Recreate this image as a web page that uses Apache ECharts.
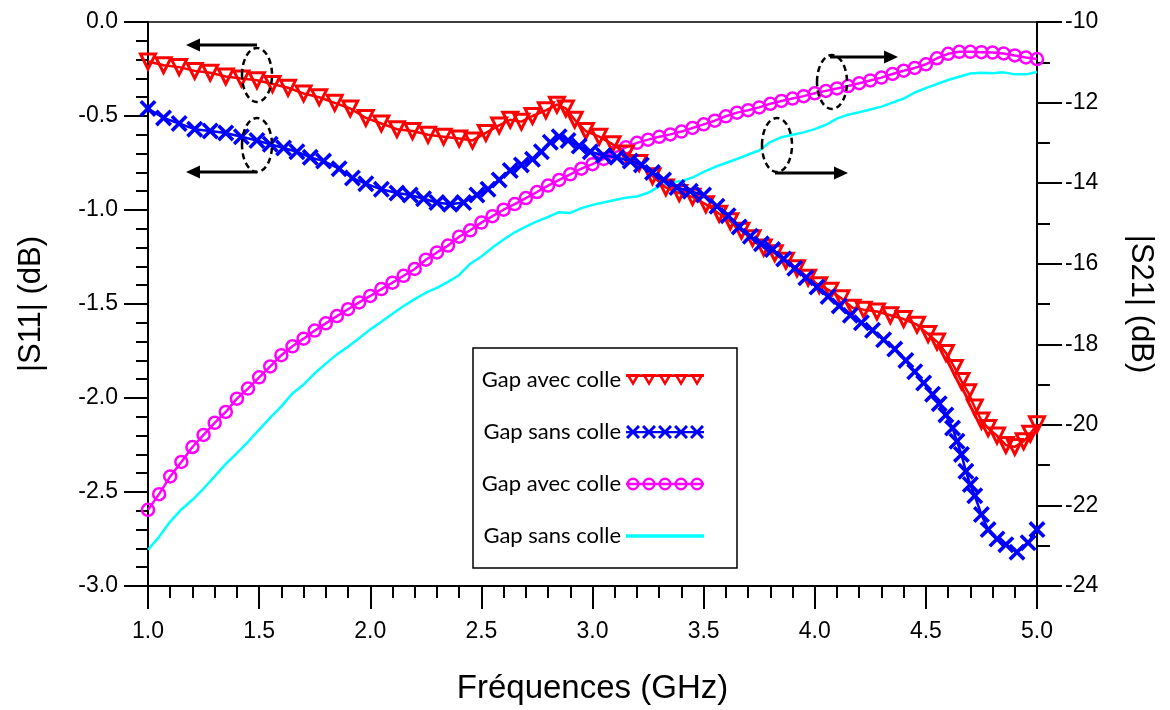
<!DOCTYPE html>
<html><head><meta charset="utf-8">
<script src="https://cdn.jsdelivr.net/npm/echarts@6/dist/echarts.min.js"></script>
<style>html,body{margin:0;padding:0;background:#fff}#c{width:1170px;height:710px}</style>
</head><body><div id="c"></div>
<script>
// ---- data ----
const seriesNames = ['Gap avec colle', 'Gap sans colle', 'Gap avec colle', 'Gap sans colle'];

const freqS11Avec = [1.00,1.07,1.14,1.21,1.28,1.35,1.42,1.49,1.56,1.63,1.70,1.77,1.84,1.91,1.98,2.05,2.12,2.19,2.26,2.33,2.40,2.46,2.52,2.58,2.63,2.68,2.73,2.79,2.84,2.88,2.92,2.97,3.03,3.09,3.15,3.21,3.27,3.33,3.39,3.45,3.51,3.57,3.62,3.67,3.72,3.77,3.82,3.87,3.92,3.97,4.02,4.07,4.12,4.17,4.22,4.28,4.34,4.40,4.46,4.51,4.55,4.59,4.63,4.66,4.69,4.72,4.75,4.78,4.82,4.86,4.90,4.94,4.97,5.00];
const s11Avec = [-0.21,-0.23,-0.24,-0.26,-0.27,-0.29,-0.30,-0.31,-0.33,-0.35,-0.38,-0.40,-0.43,-0.46,-0.51,-0.54,-0.57,-0.58,-0.60,-0.61,-0.62,-0.63,-0.59,-0.55,-0.52,-0.53,-0.50,-0.47,-0.44,-0.46,-0.52,-0.58,-0.61,-0.65,-0.70,-0.75,-0.82,-0.88,-0.91,-0.93,-0.97,-1.02,-1.06,-1.11,-1.15,-1.20,-1.23,-1.27,-1.31,-1.36,-1.40,-1.43,-1.47,-1.52,-1.53,-1.54,-1.56,-1.58,-1.61,-1.66,-1.70,-1.76,-1.84,-1.91,-1.97,-2.05,-2.12,-2.16,-2.20,-2.25,-2.26,-2.23,-2.19,-2.14];

const freqS11Sans = [1.00,1.07,1.14,1.21,1.28,1.35,1.42,1.49,1.55,1.61,1.67,1.73,1.79,1.86,1.92,1.98,2.05,2.12,2.18,2.24,2.30,2.36,2.42,2.48,2.53,2.58,2.63,2.68,2.73,2.77,2.81,2.85,2.89,2.94,2.99,3.05,3.11,3.17,3.22,3.27,3.32,3.38,3.44,3.50,3.56,3.61,3.66,3.71,3.76,3.81,3.86,3.91,3.96,4.01,4.06,4.11,4.16,4.21,4.26,4.31,4.36,4.41,4.45,4.49,4.53,4.56,4.59,4.62,4.64,4.66,4.68,4.70,4.72,4.75,4.78,4.82,4.86,4.91,4.96,5.00];
const s11Sans = [-0.46,-0.51,-0.54,-0.57,-0.58,-0.59,-0.61,-0.63,-0.65,-0.67,-0.69,-0.72,-0.74,-0.78,-0.83,-0.86,-0.89,-0.91,-0.92,-0.94,-0.96,-0.97,-0.96,-0.92,-0.89,-0.84,-0.79,-0.76,-0.73,-0.69,-0.64,-0.61,-0.63,-0.66,-0.69,-0.71,-0.72,-0.74,-0.76,-0.80,-0.84,-0.88,-0.90,-0.92,-0.98,-1.03,-1.09,-1.14,-1.18,-1.21,-1.26,-1.31,-1.36,-1.41,-1.46,-1.51,-1.56,-1.60,-1.64,-1.69,-1.74,-1.80,-1.86,-1.92,-1.98,-2.03,-2.09,-2.16,-2.23,-2.30,-2.39,-2.46,-2.52,-2.62,-2.70,-2.75,-2.78,-2.82,-2.77,-2.70];

const freqS21 = [1.00,1.05,1.10,1.15,1.20,1.25,1.30,1.35,1.40,1.45,1.50,1.55,1.60,1.65,1.70,1.75,1.80,1.85,1.90,1.95,2.00,2.05,2.10,2.15,2.20,2.25,2.30,2.35,2.40,2.45,2.50,2.55,2.60,2.65,2.70,2.75,2.80,2.85,2.90,2.95,3.00,3.05,3.10,3.15,3.20,3.25,3.30,3.35,3.40,3.45,3.50,3.55,3.60,3.65,3.70,3.75,3.80,3.85,3.90,3.95,4.00,4.05,4.10,4.15,4.20,4.25,4.30,4.35,4.40,4.45,4.50,4.55,4.60,4.65,4.70,4.75,4.80,4.85,4.90,4.95,5.00];
const s21Avec = [-22.11,-21.72,-21.28,-20.92,-20.55,-20.25,-19.95,-19.68,-19.35,-19.10,-18.82,-18.55,-18.27,-18.05,-17.86,-17.66,-17.48,-17.30,-17.13,-16.96,-16.80,-16.63,-16.47,-16.30,-16.13,-15.90,-15.72,-15.55,-15.33,-15.17,-14.98,-14.82,-14.66,-14.52,-14.37,-14.22,-14.06,-13.92,-13.78,-13.64,-13.53,-13.40,-13.24,-13.11,-13.00,-12.92,-12.85,-12.79,-12.72,-12.63,-12.54,-12.45,-12.34,-12.25,-12.19,-12.12,-12.03,-11.96,-11.90,-11.84,-11.77,-11.71,-11.65,-11.59,-11.52,-11.45,-11.38,-11.29,-11.21,-11.14,-11.05,-10.90,-10.79,-10.74,-10.74,-10.75,-10.76,-10.78,-10.83,-10.88,-10.92];
const s21Sans = [-23.10,-22.78,-22.40,-22.10,-21.86,-21.58,-21.28,-20.97,-20.70,-20.42,-20.12,-19.82,-19.54,-19.22,-19.00,-18.72,-18.48,-18.25,-18.06,-17.85,-17.63,-17.44,-17.24,-17.05,-16.88,-16.72,-16.60,-16.45,-16.28,-16.00,-15.82,-15.60,-15.40,-15.22,-15.08,-14.95,-14.84,-14.72,-14.74,-14.62,-14.54,-14.48,-14.42,-14.36,-14.33,-14.24,-14.08,-13.98,-13.95,-13.86,-13.72,-13.60,-13.50,-13.40,-13.29,-13.19,-12.98,-12.86,-12.80,-12.74,-12.66,-12.55,-12.40,-12.30,-12.24,-12.17,-12.10,-12.00,-11.90,-11.75,-11.64,-11.54,-11.44,-11.36,-11.28,-11.26,-11.27,-11.25,-11.30,-11.30,-11.24];

const xAxisTitle = 'Fréquences (GHz)';
const yLeftTitle = '|S11| (dB)';
const yRightTitle = '|S21| (dB)';

// ---- build ----
const zip = (xs, ys) => xs.map((x, i) => [x, ys[i]]);
const FONT = 'Liberation Sans, Arial, sans-serif';
const xSymbol = 'path://M0,1.5L1.5,0L5,3.5L8.5,0L10,1.5L6.5,5L10,8.5L8.5,10L5,6.5L1.5,10L0,8.5L3.5,5Z';

// legend icons: line with five markers (shapes only, built in a 78x14 box)
const centers = [7, 23, 39, 55, 71];
function iconTriangles() {
  let p = 'M0,1.5L78,1.5L78,4L0,4Z';
  centers.forEach(c => {
    p += `M${c-7},1L${c+7},1L${c},13Z`;
    p += `M${c-2.6},3.5L${c},8L${c+2.6},3.5Z`;
  });
  return 'path://' + p;
}
function iconCrosses() {
  let p = 'M0,6L78,6L78,8.2L0,8.2Z';
  centers.forEach(c => {
    p += `M${c-7},2.1L${c-4.9},0L${c},4.9L${c+4.9},0L${c+7},2.1L${c+2.1},7L${c+7},11.9L${c+4.9},14L${c},9.1L${c-4.9},14L${c-7},11.9L${c-2.1},7Z`;
  });
  return 'path://' + p;
}
function iconCircles() {
  let p = 'M0,5.8L78,5.8L78,8.2L0,8.2Z';
  centers.forEach(c => {
    p += `M${c-6.5},7A6.5,6.5 0 1,1 ${c+6.5},7A6.5,6.5 0 1,1 ${c-6.5},7Z`;
    p += `M${c-4},7A4,4 0 1,0 ${c+4},7A4,4 0 1,0 ${c-4},7Z`;
  });
  return 'path://' + p;
}

const chart = echarts.init(document.getElementById('c'), null, {renderer: 'canvas'});

function arrow(x1, x2, y) {
  const dir = x2 > x1 ? 1 : -1;
  const base = x2 - dir * 14;
  return [
    {type: 'line', shape: {x1: x1, y1: y, x2: base, y2: y}, style: {stroke: '#000', lineWidth: 3}, z: 100},
    {type: 'polygon', shape: {points: [[x2, y], [base, y - 6.5], [base, y + 6.5]]}, style: {fill: '#000'}, z: 100}
  ];
}
function ellipse(cx, cy) {
  return {type: 'ellipse', shape: {cx: cx, cy: cy, rx: 15, ry: 27}, style: {fill: null, stroke: '#000', lineWidth: 2.5, lineDash: [6, 4]}, z: 100};
}

const tickLabel = {color: '#000', fontFamily: FONT, fontSize: 23};

chart.setOption({
  animation: false,
  backgroundColor: '#fff',
  grid: {left: 148, right: 133, top: 22, bottom: 124, show: true, borderColor: '#000', borderWidth: 1.5},
  legend: {
    orient: 'vertical', left: 473, top: 348,
    align: 'right',
    padding: [21, 33, 21, 8],
    itemGap: 30, itemWidth: 78, itemHeight: 14,
    borderColor: '#000', borderWidth: 1.5, backgroundColor: '#fff',
    textStyle: {color: '#000', fontFamily: 'Lato, Open Sans, sans-serif', fontSize: 22, width: 140, lineHeight: 22},
    data: [
      {name: 'a1', icon: iconTriangles(), itemStyle: {color: '#ff0000', borderWidth: 0}},
      {name: 'b1', icon: iconCrosses(), itemStyle: {color: '#0000ff', borderWidth: 0}},
      {name: 'a2', icon: iconCircles(), itemStyle: {color: '#ff00ff', borderWidth: 0}},
      {name: 'b2', icon: 'path://M0,0L70,0L70,3L0,3Z', itemStyle: {color: '#00ffff', borderWidth: 0}}
    ],
    formatter: function (n) { return {a1: seriesNames[0], b1: seriesNames[1], a2: seriesNames[2], b2: seriesNames[3]}[n]; },
    selectedMode: false
  },
  xAxis: {
    type: 'value', min: 1, max: 5, interval: 0.5,
    name: xAxisTitle, nameLocation: 'middle', nameGap: 86,
    nameTextStyle: {color: '#000', fontFamily: FONT, fontSize: 33},
    axisLine: {onZero: false, lineStyle: {color: '#000', width: 2}},
    axisTick: {inside: false, length: 23, lineStyle: {color: '#000', width: 2}},
    minorTick: {show: true, splitNumber: 5, length: 12, lineStyle: {color: '#000', width: 2}},
    axisLabel: Object.assign({margin: 34, formatter: v => v.toFixed(1)}, tickLabel),
    splitLine: {show: false}
  },
  yAxis: [
    {
      type: 'value', min: -3, max: 0, interval: 0.5, position: 'left',
      name: yLeftTitle, nameLocation: 'middle', nameGap: 101,
      nameTextStyle: {color: '#000', fontFamily: FONT, fontSize: 31},
      axisLine: {show: true, lineStyle: {color: '#000', width: 2}},
      axisTick: {inside: false, length: 24, lineStyle: {color: '#000', width: 2}},
      minorTick: {show: true, splitNumber: 5, length: 12, lineStyle: {color: '#000', width: 2}},
      axisLabel: Object.assign({margin: 30, formatter: v => v.toFixed(1)}, tickLabel),
      splitLine: {show: false}
    },
    {
      type: 'value', min: -24, max: -10, interval: 2, position: 'right',
      name: yRightTitle, nameLocation: 'middle', nameGap: 88, nameRotate: -90,
      nameTextStyle: {color: '#000', fontFamily: FONT, fontSize: 31},
      axisLine: {show: true, lineStyle: {color: '#000', width: 2}},
      axisTick: {inside: false, length: 25, lineStyle: {color: '#000', width: 2}},
      minorTick: {show: true, splitNumber: 2, length: 13, lineStyle: {color: '#000', width: 2}},
      axisLabel: Object.assign({margin: 28}, tickLabel),
      splitLine: {show: false}
    }
  ],
  series: [
    {
      name: 'a1', type: 'line', yAxisIndex: 0, data: zip(freqS11Avec, s11Avec),
      symbol: 'triangle', symbolRotate: 180, symbolSize: 15, showAllSymbol: true,
      lineStyle: {color: '#ff0000', width: 2.5},
      itemStyle: {color: 'rgba(255,255,255,0)', borderColor: '#ff0000', borderWidth: 3},
      z: 4
    },
    {
      name: 'b1', type: 'line', yAxisIndex: 0, data: zip(freqS11Sans, s11Sans),
      symbol: xSymbol, symbolSize: 17, showAllSymbol: true,
      lineStyle: {color: '#0000ff', width: 2.5},
      itemStyle: {color: '#0000ff'},
      z: 5
    },
    {
      name: 'a2', type: 'line', yAxisIndex: 1, data: zip(freqS21, s21Avec),
      symbol: 'circle', symbolSize: 12, showAllSymbol: true,
      lineStyle: {color: '#ff00ff', width: 2.5},
      itemStyle: {color: 'rgba(255,255,255,0)', borderColor: '#ff00ff', borderWidth: 2.5},
      z: 3
    },
    {
      name: 'b2', type: 'line', yAxisIndex: 1, data: zip(freqS21, s21Sans),
      symbol: 'none',
      lineStyle: {color: '#00ffff', width: 2.5},
      itemStyle: {color: '#00ffff'},
      z: 2
    }
  ],
  graphic: [].concat(
    [ellipse(257, 75), ellipse(257, 145), ellipse(832, 82), ellipse(777, 145)],
    arrow(257, 186, 45), arrow(257, 186, 172), arrow(830, 898, 57), arrow(775, 848, 173)
  )
});
</script></body></html>
